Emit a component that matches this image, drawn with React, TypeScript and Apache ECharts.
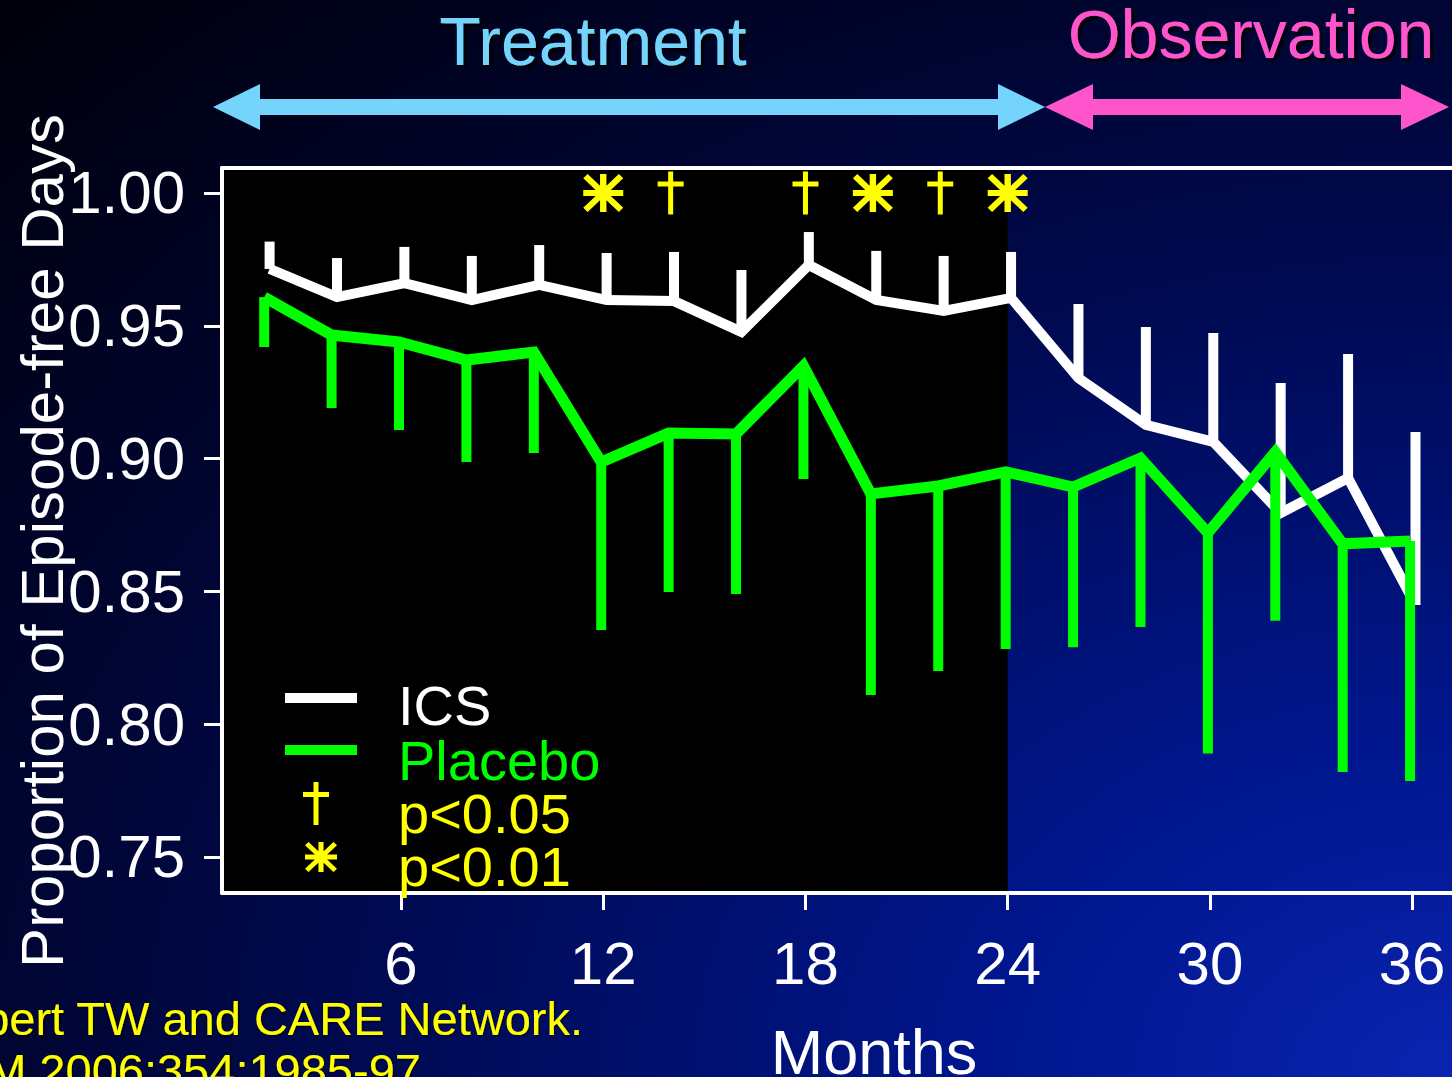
import React, { useEffect, useRef } from 'react';
import * as echarts from 'echarts';

// ---------- data ----------
const MONTHS = [2, 4, 6, 8, 10, 12, 14, 16, 18, 20, 22, 24, 26, 28, 30, 32, 34, 36];
const ICS_MEAN = [0.9714, 0.9608, 0.9661, 0.9597, 0.9654, 0.9597, 0.9593, 0.9477, 0.9729, 0.9597, 0.9556, 0.9605, 0.9303, 0.9127, 0.9063, 0.8795, 0.8927, 0.8449];
const ICS_UPPER = [0.9817, 0.9755, 0.9797, 0.9763, 0.9804, 0.9774, 0.9778, 0.971, 0.9853, 0.9782, 0.9763, 0.9778, 0.9582, 0.9495, 0.9473, 0.9285, 0.9394, 0.91];
const PLACEBO_MEAN = [0.9608, 0.9465, 0.9439, 0.9371, 0.9401, 0.8987, 0.9096, 0.9093, 0.9349, 0.8867, 0.8897, 0.895, 0.8893, 0.9002, 0.872, 0.9025, 0.8679, 0.869];
const PLACEBO_LOWER = [0.942, 0.919, 0.9108, 0.8987, 0.9021, 0.8355, 0.8498, 0.849, 0.8923, 0.811, 0.82, 0.8283, 0.829, 0.8366, 0.789, 0.8389, 0.782, 0.7786];
const P05_MONTHS = [14, 18, 22];
const P01_MONTHS = [12, 20, 24];
const MARKER_LEVEL = 1.0;
const TREATMENT_END = 24;
const X_TICKS = [6, 12, 18, 24, 30, 36];
const Y_TICKS = [0.75, 0.8, 0.85, 0.9, 0.95, 1.0];
const X_MIN = 0.688;
const X_MAX = 37.48;
const Y_MIN = 0.73644;
const Y_MAX = 1.00941;

// ---------- style ----------
const FONT = '"Liberation Sans", Arial, Helvetica, sans-serif';
const WHITE = '#ffffff';
const GREEN = '#00ff00';
const YELLOW = '#ffff00';
const CYAN = '#74d4fc';
const PINK = '#ff55cc';
const ICS_SHIFT = 0.1;
const PLACEBO_SHIFT = -0.06;

const DAGGER_D = 'M10.5 0H15.5V43H10.5ZM0 10H26V15H0Z';
const ASTERISK_D = 'M42 0H58V100H42ZM0 42H100V58H0ZM11 0L100 89L89 100L0 11ZM89 0L100 11L11 100L0 89Z';

echarts.graphic.registerShape('daggerShape', echarts.graphic.extendPath(DAGGER_D, {}));
echarts.graphic.registerShape('asteriskShape', echarts.graphic.extendPath(ASTERISK_D, {}));

const shadow = {
  textShadowColor: 'rgba(0,0,0,0.95)',
  textShadowBlur: 2,
  textShadowOffsetX: 3,
  textShadowOffsetY: 3,
};

function errorBarSeries(name: string, shift: number, means: number[], bounds: number[], color: string, z: number) {
  return {
    name,
    type: 'custom',
    z,
    data: MONTHS.map((m, i) => [m + shift, means[i], bounds[i]]),
    encode: { x: 0, y: [1, 2] },
    renderItem: (params: any, api: any) => {
      const p1 = api.coord([api.value(0), api.value(1)]);
      const p2 = api.coord([api.value(0), api.value(2)]);
      return {
        type: 'line',
        shape: { x1: p1[0], y1: p1[1], x2: p2[0], y2: p2[1] },
        style: { stroke: color, lineWidth: 10, lineCap: 'butt' },
      };
    },
  };
}

function arrow(x1: number, x2: number, y: number, head: number, color: string) {
  const hh = 23;
  const sh = 8;
  return {
    type: 'polygon',
    shape: {
      points: [
        [x1, y], [x1 + head, y - hh], [x1 + head, y - sh], [x2 - head, y - sh], [x2 - head, y - hh],
        [x2, y], [x2 - head, y + hh], [x2 - head, y + sh], [x1 + head, y + sh], [x1 + head, y + hh],
      ],
    },
    style: { fill: color },
    z: 10,
  };
}

function buildOption() {
  return {
    animation: false,
    backgroundColor: 'transparent',
    grid: { left: 222, top: 168, width: 1240, height: 725, show: false, outerBoundsMode: 'none' },
    xAxis: [
      {
        type: 'value',
        min: X_MIN,
        max: X_MAX,
        z: 5,
        axisLine: { show: true, onZero: false, lineStyle: { color: WHITE, width: 4 } },
        axisTick: { show: true, length: 17, lineStyle: { color: WHITE, width: 3 }, customValues: X_TICKS },
        axisLabel: { customValues: X_TICKS, color: WHITE, fontSize: 60, margin: 40, fontFamily: FONT },
        splitLine: { show: false },
      },
      {
        type: 'value',
        position: 'top',
        min: X_MIN,
        max: X_MAX,
        z: 5,
        axisLine: { show: true, onZero: false, lineStyle: { color: WHITE, width: 4 } },
        axisTick: { show: false },
        axisLabel: { show: false },
        splitLine: { show: false },
      },
    ],
    yAxis: {
      type: 'value',
      min: Y_MIN,
      max: Y_MAX,
      z: 5,
      axisLine: { show: true, onZero: false, lineStyle: { color: WHITE, width: 4 } },
      axisTick: { show: true, length: 18, lineStyle: { color: WHITE, width: 3 }, customValues: Y_TICKS },
      axisLabel: {
        customValues: Y_TICKS,
        color: WHITE,
        fontSize: 60,
        margin: 37,
        fontFamily: FONT,
        formatter: (v: number) => v.toFixed(2),
      },
      splitLine: { show: false },
    },
    series: [
      {
        name: 'ICS',
        type: 'line',
        z: 3,
        showSymbol: false,
        symbol: 'none',
        data: MONTHS.map((m, i) => [m + ICS_SHIFT, ICS_MEAN[i]]),
        lineStyle: { color: WHITE, width: 10, cap: 'butt', join: 'miter' },
        markArea: {
          silent: true,
          z: 1,
          itemStyle: { color: '#000000', opacity: 1 },
          label: { show: false },
          data: [[{ xAxis: X_MIN }, { xAxis: TREATMENT_END }]],
        },
      },
      errorBarSeries('ICS error', ICS_SHIFT, ICS_MEAN, ICS_UPPER, WHITE, 3),
      {
        name: 'Placebo',
        type: 'line',
        z: 4,
        showSymbol: false,
        symbol: 'none',
        data: MONTHS.map((m, i) => [m + PLACEBO_SHIFT, PLACEBO_MEAN[i]]),
        lineStyle: { color: GREEN, width: 11, cap: 'butt', join: 'miter' },
      },
      errorBarSeries('Placebo error', PLACEBO_SHIFT, PLACEBO_MEAN, PLACEBO_LOWER, GREEN, 4),
      {
        name: 'p<0.05',
        type: 'scatter',
        z: 6,
        symbol: 'path://' + DAGGER_D,
        symbolSize: [26, 43],
        itemStyle: { color: YELLOW, opacity: 1 },
        data: P05_MONTHS.map((m) => [m, MARKER_LEVEL]),
      },
      {
        name: 'p<0.01',
        type: 'scatter',
        z: 6,
        symbol: 'path://' + ASTERISK_D,
        symbolSize: [40, 38],
        itemStyle: { color: YELLOW, opacity: 1 },
        data: P01_MONTHS.map((m) => [m, MARKER_LEVEL]),
      },
    ],
    graphic: [
      { type: 'text', x: 593, y: 41, z: 10, style: { text: 'Treatment', fill: CYAN, font: `68px ${FONT}`, align: 'center', verticalAlign: 'middle', ...shadow } },
      { type: 'text', x: 1251, y: 34, z: 10, style: { text: 'Observation', fill: PINK, font: `68px ${FONT}`, align: 'center', verticalAlign: 'middle', ...shadow } },
      arrow(213, 1045, 107, 47, CYAN),
      arrow(1045, 1449, 107, 48, PINK),
      {
        type: 'text', x: 42, y: 541, rotation: Math.PI / 2, z: 10,
        style: { text: 'Proportion of Episode-free Days', fill: WHITE, font: `60px ${FONT}`, align: 'center', verticalAlign: 'middle' },
      },
      { type: 'text', x: 874, y: 1052, z: 10, style: { text: 'Months', fill: WHITE, font: `63px ${FONT}`, align: 'center', verticalAlign: 'middle' } },
      { type: 'text', x: 583, y: 1018, z: 10, style: { text: 'Guilbert TW and CARE Network.', fill: YELLOW, font: `47px ${FONT}`, align: 'right', verticalAlign: 'middle', textShadowColor: 'rgba(0,0,0,0.8)', textShadowBlur: 2, textShadowOffsetX: 1, textShadowOffsetY: 1 } },
      { type: 'text', x: 434, y: 1070, z: 10, style: { text: 'NEJM 2006;354:1985-97.', fill: YELLOW, font: `47px ${FONT}`, align: 'right', verticalAlign: 'middle', textShadowColor: 'rgba(0,0,0,0.8)', textShadowBlur: 2, textShadowOffsetX: 1, textShadowOffsetY: 1 } },
      // legend
      { type: 'line', z: 10, shape: { x1: 285, y1: 698, x2: 357, y2: 698 }, style: { stroke: WHITE, lineWidth: 10 } },
      { type: 'line', z: 10, shape: { x1: 285, y1: 750, x2: 357, y2: 750 }, style: { stroke: GREEN, lineWidth: 10 } },
      { type: 'daggerShape', z: 10, x: 303, y: 782, scaleX: 1, scaleY: 1, style: { fill: YELLOW } },
      { type: 'asteriskShape', z: 10, x: 305, y: 842, scaleX: 0.32, scaleY: 0.3, style: { fill: YELLOW } },
      { type: 'text', x: 398, y: 705, z: 10, style: { text: 'ICS', fill: WHITE, font: `56px ${FONT}`, verticalAlign: 'middle' } },
      { type: 'text', x: 398, y: 760, z: 10, style: { text: 'Placebo', fill: GREEN, font: `56px ${FONT}`, verticalAlign: 'middle' } },
      { type: 'text', x: 398, y: 813, z: 10, style: { text: 'p<0.05', fill: YELLOW, font: `56px ${FONT}`, verticalAlign: 'middle' } },
      { type: 'text', x: 398, y: 866, z: 10, style: { text: 'p<0.01', fill: YELLOW, font: `56px ${FONT}`, verticalAlign: 'middle' } },
    ],
  };
}

export default function App() {
  const ref = useRef<HTMLDivElement>(null);
  useEffect(() => {
    if (!ref.current) return;
    const chart = echarts.init(ref.current, null, { renderer: 'svg' });
    chart.setOption(buildOption() as any);
    return () => chart.dispose();
  }, []);
  return (
    <div
      ref={ref}
      style={{
        position: 'fixed',
        left: 0,
        top: 0,
        width: 1452,
        height: 1077,
        overflow: 'hidden',
        background:
          'radial-gradient(ellipse at 100% 100%, #0b24b0 0%, #00168e 22%, #000e66 42%, #000848 58%, #00042a 75%, #00000a 100%)',
      }}
    />
  );
}
